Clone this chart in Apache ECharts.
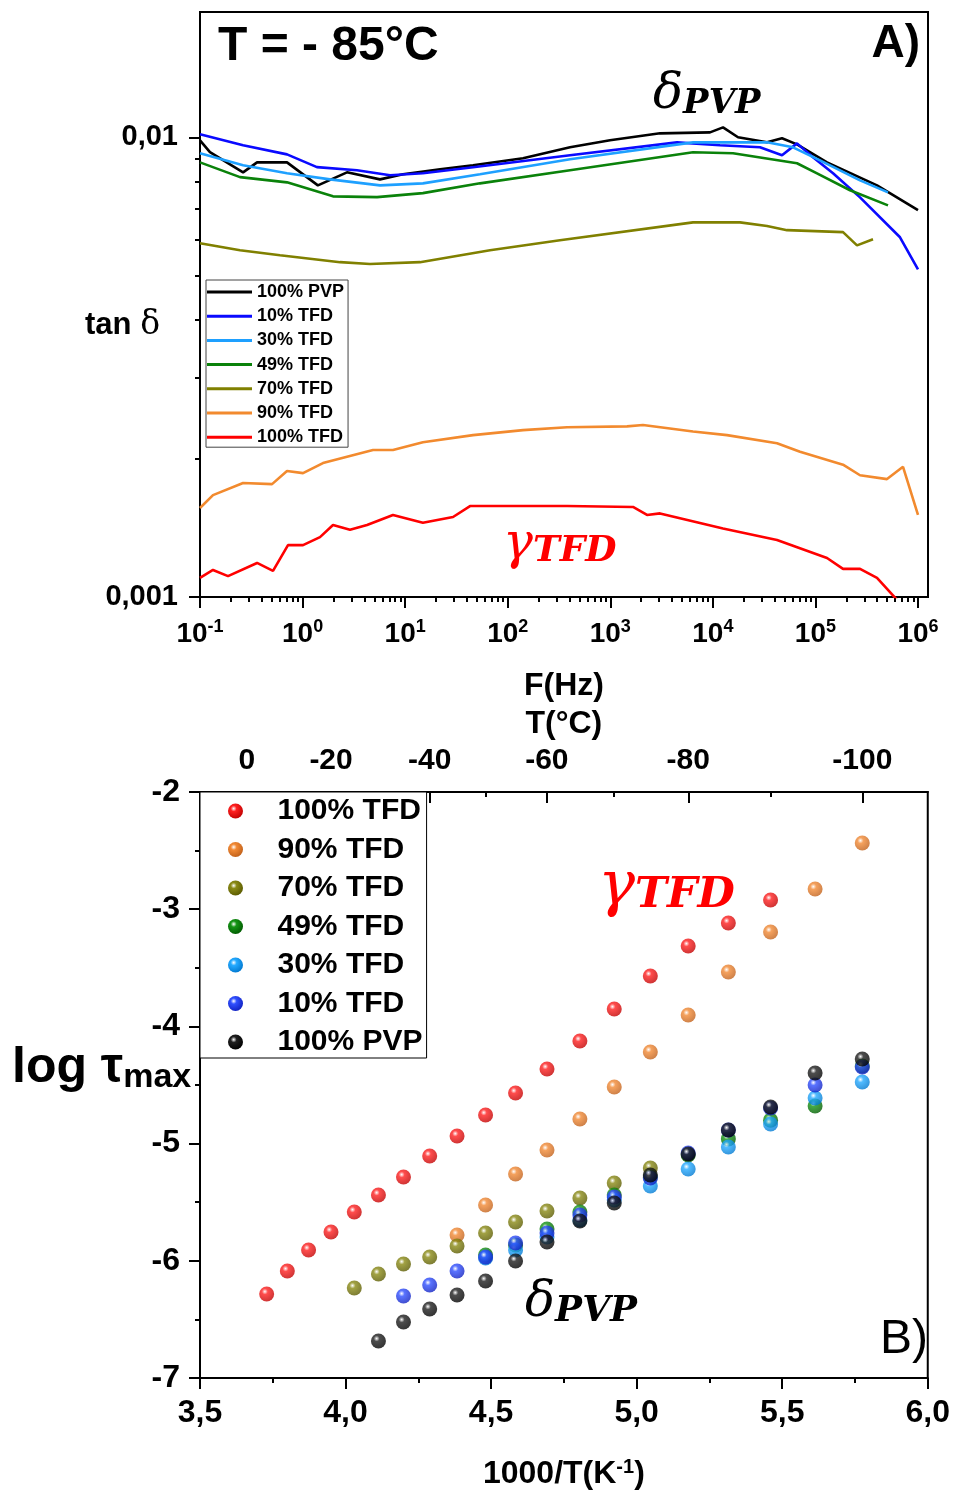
<!DOCTYPE html>
<html><head><meta charset="utf-8">
<script src="https://cdn.jsdelivr.net/npm/echarts@6/dist/echarts.min.js"></script>
<style>html,body{margin:0;padding:0;background:#fff}#c{width:953px;height:1492px}</style>
</head><body><div id="c"></div>
<script>
// ---------- Panel A data: tan(delta) vs frequency at -85 C ----------
const F_PVP100 = [0.1,0.125,0.263,0.36,0.705,1.41,2.71,5.69,9.53,21.9,45.9,141,405,994,3054,9380,12560,17590,33730,47220,66120,129700,398400,1e6];
const T_PVP100 = [0.00985,0.00928,0.00839,0.00882,0.00882,0.00786,0.00839,0.0081,0.00831,0.00852,0.00869,0.009,0.00951,0.00985,0.0102,0.01025,0.01051,0.01,0.00975,0.00995,0.00965,0.00882,0.00786,0.00694];
const F_TFD10 = [0.1,0.263,0.705,1.38,3.39,7.13,14.9,45.9,405,4473,11740,28820,47230,66120,94640,148500,272100,667700,1e6];
const T_TFD10 = [0.01015,0.00961,0.00918,0.00861,0.00848,0.00827,0.00835,0.00861,0.00914,0.00975,0.00961,0.00951,0.00914,0.0097,0.00905,0.00835,0.0074,0.00606,0.00516];
const F_TFD30 = [0.1,0.263,0.705,1.85,5.69,14.9,53.7,405,6404,33730,60450,110800,272100,510200];
const T_TFD30 = [0.00923,0.00869,0.00835,0.0081,0.00786,0.00794,0.00831,0.00896,0.00975,0.00975,0.00951,0.00891,0.00806,0.00759];
const F_TFD49 = [0.1,0.2455,0.705,1.98,5.32,14.9,53.7,405,6404,15720,66120,103600,217400,510200];
const T_TFD49 = [0.00882,0.00819,0.00798,0.00744,0.00741,0.00756,0.00794,0.00848,0.00928,0.00923,0.00878,0.00835,0.00767,0.00711];
const F_TFD70 = [0.1,0.2455,0.603,2.32,4.54,13.96,67.2,323,6404,18390,33730,52840,185800,254300,364200];
const T_TFD70 = [0.00588,0.00568,0.00554,0.00535,0.0053,0.00535,0.00568,0.00597,0.00653,0.00653,0.00641,0.00628,0.00622,0.00582,0.006];
const F_TFD90 = [0.1,0.1339,0.263,0.504,0.705,1.01,1.58,4.86,7.61,14.9,45.9,141,378.6,1455,2084,6404,13740,42220,70740,185800,272100,498900,714500,1e6];
const T_TFD90 = [0.001562,0.001666,0.00177,0.00176,0.00188,0.00186,0.001956,0.002088,0.002088,0.00217,0.00225,0.002307,0.00234,0.00235,0.002366,0.00229,0.00225,0.00216,0.00207,0.00194,0.00184,0.001805,0.00192,0.001508];
const F_TFD100 = [0.1,0.1339,0.1875,0.36,0.515,0.721,1.01,1.479,1.98,2.9,4.25,7.61,14.9,29.3,42.9,98.4,378.6,1665,2281,3054,12560,42220,129700,185800,272100,398400,667700];
const T_TFD100 = [0.0011,0.001145,0.00111,0.001186,0.00114,0.001297,0.001297,0.00135,0.001434,0.0014,0.001434,0.001508,0.00145,0.001493,0.001577,0.001577,0.001577,0.00157,0.001508,0.00152,0.00141,0.00133,0.001216,0.001151,0.001151,0.0011,0.00097];

// ---------- Panel B data: log tau_max vs 1000/T ----------
const X_TFD100 = [3.729,3.800,3.873,3.950,4.030,4.113,4.199,4.289,4.383,4.481,4.584,4.692,4.805,4.923,5.047,5.177,5.315,5.460];
const Y_TFD100 = [-6.283,-6.087,-5.908,-5.754,-5.584,-5.439,-5.285,-5.106,-4.935,-4.756,-4.568,-4.363,-4.125,-3.852,-3.570,-3.314,-3.118,-2.922];
const X_TFD90 = [4.383,4.481,4.584,4.692,4.805,4.923,5.047,5.177,5.315,5.460,5.613,5.775];
const Y_TFD90 = [-5.780,-5.524,-5.259,-5.055,-4.790,-4.517,-4.218,-3.903,-3.536,-3.195,-2.828,-2.435];
const X_TFD70 = [4.030,4.113,4.199,4.289,4.383,4.481,4.584,4.692,4.805,4.923,5.047];
const Y_TFD70 = [-6.232,-6.113,-6.027,-5.968,-5.874,-5.763,-5.669,-5.575,-5.464,-5.336,-5.208];
const X_TFD49 = [4.481,4.584,4.692,4.805,4.923,5.047,5.177,5.315,5.460,5.613,5.775];
const Y_TFD49 = [-5.951,-5.865,-5.729,-5.584,-5.439,-5.285,-5.097,-4.960,-4.800,-4.679,-4.338];
const X_TFD30 = [4.481,4.584,4.692,4.805,4.923,5.047,5.177,5.315,5.460,5.613,5.775];
const Y_TFD30 = [-5.976,-5.908,-5.797,-5.652,-5.481,-5.362,-5.217,-5.029,-4.833,-4.611,-4.474];
const X_TFD10 = [4.199,4.289,4.383,4.481,4.584,4.692,4.805,4.923,5.047,5.177,5.315,5.460,5.613,5.775];
const Y_TFD10 = [-6.300,-6.206,-6.087,-5.968,-5.848,-5.763,-5.609,-5.456,-5.294,-5.080,-4.884,-4.696,-4.500,-4.346];
const X_PVP100 = [4.113,4.199,4.289,4.383,4.481,4.584,4.692,4.805,4.923,5.047,5.177,5.315,5.460,5.613,5.775];
const Y_PVP100 = [-6.684,-6.522,-6.411,-6.292,-6.172,-6.002,-5.840,-5.660,-5.507,-5.268,-5.089,-4.884,-4.688,-4.398,-4.278];

// ---------- tick labels ----------
const freqTicks = [0.1,1,10,100,1000,1e4,1e5,1e6];
const tanTicks = [0.001,0.01];
const tempTicks = [0,-20,-40,-60,-80,-100];
const tempMinorTicks = [10,-10,-30,-50,-70,-90];
const invTTicks = [3.5,4.0,4.5,5.0,5.5,6.0];
const logTauTicks = [-7,-6,-5,-4,-3,-2];

const names = ['100% PVP','10% TFD','30% TFD','49% TFD','70% TFD','90% TFD','100% TFD'];
const lineColors = {'100% PVP':'#000000','10% TFD':'#0a0aff','30% TFD':'#1ea0ff','49% TFD':'#0a820a','70% TFD':'#808000','90% TFD':'#f28a2e','100% TFD':'#ff0000'};
const ballColors = {'100% TFD':['#ff2020','#c00000'],'90% TFD':['#f28a35','#c0601a'],'70% TFD':['#8a8a15','#5a5a00'],'49% TFD':['#159515','#005a00'],'30% TFD':['#25aaff','#0078d0'],'10% TFD':['#3050ff','#1020c0'],'100% PVP':['#202020','#000000']};

const zip = (a,b) => a.map((v,i)=>[v,b[i]]);
const curves = {'100% PVP':zip(F_PVP100,T_PVP100),'10% TFD':zip(F_TFD10,T_TFD10),'30% TFD':zip(F_TFD30,T_TFD30),'49% TFD':zip(F_TFD49,T_TFD49),'70% TFD':zip(F_TFD70,T_TFD70),'90% TFD':zip(F_TFD90,T_TFD90),'100% TFD':zip(F_TFD100,T_TFD100)};
const points = {'100% TFD':zip(X_TFD100,Y_TFD100),'90% TFD':zip(X_TFD90,Y_TFD90),'70% TFD':zip(X_TFD70,Y_TFD70),'49% TFD':zip(X_TFD49,Y_TFD49),'30% TFD':zip(X_TFD30,Y_TFD30),'10% TFD':zip(X_TFD10,Y_TFD10),'100% PVP':zip(X_PVP100,Y_PVP100)};
const scatterOrder = ['100% TFD','90% TFD','70% TFD','49% TFD','30% TFD','10% TFD','100% PVP'];

const freqMinor = [];
for (let d=-1; d<6; d++) for (let k=2; k<10; k++) freqMinor.push(k*Math.pow(10,d));
const tanMinor = [2,3,4,5,6,7,8,9].map(k=>k*0.001);
const invT = t => 1000/(t+273.15);

const SANS = '"Liberation Sans", Arial, sans-serif';
const MATH = '"DejaVu Serif", serif';
const ball = n => ({type:'radial',x:0.38,y:0.34,r:0.7,colorStops:[{offset:0,color:'#ffffff'},{offset:0.28,color:ballColors[n][0]},{offset:1,color:ballColors[n][1]}]});

const axLine = {show:true,onZero:false,lineStyle:{color:'#000',width:2}};
const tickStyle = {color:'#000',width:2};

const series = [];
names.forEach(n => series.push({type:'line',name:n,xAxisIndex:0,yAxisIndex:0,data:curves[n],showSymbol:false,symbol:'none',lineStyle:{color:lineColors[n],width:2.6},itemStyle:{color:lineColors[n]},clip:true,z:3}));
scatterOrder.forEach(n => series.push({type:'scatter',name:n,xAxisIndex:2,yAxisIndex:2,data:points[n],symbol:'circle',symbolSize:15,itemStyle:{color:ball(n)},z:4}));

const option = {
  animation:false,
  backgroundColor:'#fff',
  grid:[
    {left:200,right:25,top:12,bottom:895,show:true,borderColor:'#000',borderWidth:2,backgroundColor:'transparent'},
    {left:200,right:25,top:792,bottom:114,show:true,borderColor:'#000',borderWidth:2,backgroundColor:'transparent'}
  ],
  xAxis:[
    {type:'log',gridIndex:0,position:'bottom',min:0.1,max:1.2516e6,logBase:10,axisLine:axLine,splitLine:{show:false},
     axisTick:{customValues:freqTicks,length:11,lineStyle:tickStyle},
     axisLabel:{customValues:freqTicks,margin:21,formatter:v=>'{b|10}{s|'+Math.round(Math.log10(v))+'}',
       rich:{b:{fontSize:28,fontWeight:'bold',fontFamily:SANS,color:'#000',lineHeight:32},s:{fontSize:18,fontWeight:'bold',fontFamily:SANS,color:'#000',lineHeight:18,verticalAlign:'top'}}},
     name:'F(Hz)',nameLocation:'middle',nameGap:73,nameTextStyle:{fontSize:32,fontWeight:'bold',fontFamily:SANS,color:'#000'}},
    {type:'log',gridIndex:0,position:'bottom',min:0.1,max:1.2516e6,logBase:10,axisLine:{show:false},splitLine:{show:false},axisLabel:{show:false},
     axisTick:{customValues:freqMinor,length:5,lineStyle:tickStyle}},
    {type:'value',gridIndex:1,position:'bottom',min:3.5,max:6,interval:0.5,axisLine:axLine,splitLine:{show:false},
     axisTick:{length:11,lineStyle:tickStyle},minorTick:{show:true,splitNumber:2,length:5,lineStyle:tickStyle},
     axisLabel:{margin:19,fontSize:32,fontWeight:'bold',fontFamily:SANS,color:'#000',formatter:v=>v.toFixed(1).replace('.',',')},
     name:'{a|1000/T(K}{s|-1}{a|)}',nameLocation:'middle',nameGap:79,
     nameTextStyle:{rich:{a:{fontSize:32,fontWeight:'bold',fontFamily:SANS,color:'#000',lineHeight:34},s:{fontSize:20,fontWeight:'bold',fontFamily:SANS,color:'#000',lineHeight:20,verticalAlign:'top'}}}},
    {type:'value',gridIndex:1,position:'top',min:3.5,max:6,axisLine:axLine,splitLine:{show:false},
     axisTick:{inside:true,customValues:tempTicks.map(invT),length:11,lineStyle:tickStyle},
     axisLabel:{customValues:tempTicks.map(invT),margin:16,fontSize:30,fontWeight:'bold',fontFamily:SANS,color:'#000',formatter:v=>String(Math.round(1000/v-273.15))},
     name:'T(°C)',nameLocation:'middle',nameGap:52,nameTextStyle:{fontSize:32,fontWeight:'bold',fontFamily:SANS,color:'#000'}},
    {type:'value',gridIndex:1,position:'top',min:3.5,max:6,axisLine:{show:false},splitLine:{show:false},axisLabel:{show:false},
     axisTick:{inside:true,customValues:tempMinorTicks.map(invT),length:5,lineStyle:tickStyle}}
  ],
  yAxis:[
    {type:'log',gridIndex:0,position:'left',min:0.001,max:0.01873,logBase:10,axisLine:axLine,splitLine:{show:false},
     axisTick:{customValues:tanTicks,length:11,lineStyle:tickStyle},
     axisLabel:{customValues:tanTicks,margin:22,fontSize:29,fontWeight:'bold',fontFamily:SANS,color:'#000',formatter:v=>String(v).replace('.',',')}},
    {type:'log',gridIndex:0,position:'left',min:0.001,max:0.01873,logBase:10,axisLine:{show:false},splitLine:{show:false},axisLabel:{show:false},
     axisTick:{customValues:tanMinor,length:5,lineStyle:tickStyle}},
    {type:'value',gridIndex:1,position:'left',min:-7,max:-2,interval:1,axisLine:axLine,splitLine:{show:false},
     axisTick:{length:11,lineStyle:tickStyle},minorTick:{show:true,splitNumber:2,length:5,lineStyle:tickStyle},
     axisLabel:{margin:20,fontSize:32,fontWeight:'bold',fontFamily:SANS,color:'#000'}}
  ],
  legend:[
    {orient:'vertical',left:206,top:280,padding:[3,4,1,1],itemGap:6.2,itemWidth:45,itemHeight:3,icon:'rect',
     borderColor:'#444',borderWidth:1,backgroundColor:'#fff',selectedMode:false,
     textStyle:{fontSize:18,fontWeight:'bold',fontFamily:SANS,color:'#000',lineHeight:18},
     data:names},
    {orient:'vertical',left:200,top:792,padding:[3,4,0,28],itemGap:6.5,itemWidth:54,itemHeight:15,icon:'circle',
     borderColor:'#000',borderWidth:1,backgroundColor:'#fff',selectedMode:false,
     textStyle:{fontSize:30,fontWeight:'bold',fontFamily:SANS,color:'#000',lineHeight:32,padding:[0,0,0,10]},
     data:scatterOrder.map(n=>({name:n,icon:'circle',itemStyle:{color:ball(n)}}))}
  ],
  graphic:[
    {type:'text',x:218,y:47,z:10,style:{text:'T = - 85°C',font:'bold 48px "Liberation Sans", Arial',fill:'#000',verticalAlign:'middle'}},
    {type:'text',x:920,y:44,z:10,style:{text:'A)',font:'bold 46px "Liberation Sans", Arial',fill:'#000',align:'right',verticalAlign:'middle'}},
    {type:'text',x:653,y:95,z:10,style:{text:'{d|δ}{s|PVP}',verticalAlign:'middle',rich:{d:{fontSize:50,fontStyle:'italic',fontFamily:MATH,fill:'#000',lineHeight:52},s:{fontSize:34,fontStyle:'italic',fontWeight:'bold',fontFamily:MATH,fill:'#000',padding:[18,0,0,0]}}}},
    {type:'text',x:503,y:545,z:10,style:{text:'{d|γ}{s|TFD}',verticalAlign:'middle',rich:{d:{fontSize:50,fontStyle:'italic',fontFamily:MATH,fill:'#ff0000',lineHeight:52},s:{fontSize:36,fontStyle:'italic',fontWeight:'bold',fontFamily:MATH,fill:'#ff0000',padding:[14,0,0,0]}}}},
    {type:'text',x:598,y:888,z:10,style:{text:'{d|γ}{s|TFD}',verticalAlign:'middle',rich:{d:{fontSize:62,fontStyle:'italic',fontFamily:MATH,fill:'#ff0000',lineHeight:64},s:{fontSize:43,fontStyle:'italic',fontWeight:'bold',fontFamily:MATH,fill:'#ff0000',padding:[16,0,0,0]}}}},
    {type:'text',x:525,y:1303,z:10,style:{text:'{d|δ}{s|PVP}',verticalAlign:'middle',rich:{d:{fontSize:50,fontStyle:'italic',fontFamily:MATH,fill:'#000',lineHeight:52},s:{fontSize:36,fontStyle:'italic',fontWeight:'bold',fontFamily:MATH,fill:'#000',padding:[18,0,0,0]}}}},
    {type:'text',x:880,y:1340,z:10,style:{text:'B)',font:'48px "Liberation Sans", Arial',fill:'#000',verticalAlign:'middle'}},
    {type:'text',x:160,y:325,z:10,style:{text:'{a|tan }{d|δ}',align:'right',verticalAlign:'middle',rich:{a:{fontSize:31,fontWeight:'bold',fontFamily:SANS,fill:'#000'},d:{fontSize:33,fontFamily:MATH,fill:'#000'}}}},
    {type:'text',x:12,y:1068,z:10,style:{text:'{a|log τ}{s|max}',verticalAlign:'middle',rich:{a:{fontSize:50,fontWeight:'bold',fontFamily:SANS,fill:'#000',lineHeight:52},s:{fontSize:34,fontWeight:'bold',fontFamily:SANS,fill:'#000',padding:[20,0,0,0]}}}}
  ],
  series:series
};
const chart = echarts.init(document.getElementById('c'),null,{renderer:'canvas'});
chart.setOption(option);
</script></body></html>
